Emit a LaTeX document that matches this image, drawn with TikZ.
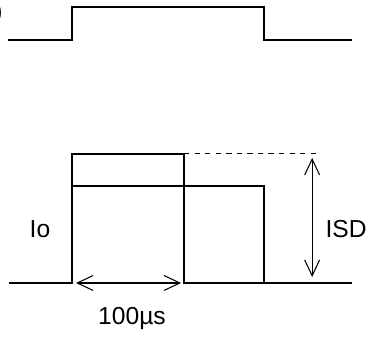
\documentclass[tikz,border=0pt]{standalone}
\usepackage{fontspec}
\setmainfont{Liberation Sans}
\usepackage{tkz-euclide}
\usetikzlibrary{arrows.meta}
\tikzset{
  wave/.style={line width=1.5pt, line join=miter},
  dim/.style={line width=0.6pt, {Straight Barb[length=9pt,width=8.5pt]}-{Straight Barb[length=9pt,width=8.5pt]}},
  lbl/.style={font=\fontsize{14}{16}\selectfont, inner sep=0pt}
}
\begin{document}
\begin{tikzpicture}[scale=0.02]
    \useasboundingbox (0,0) rectangle (372,340);
    % gate signal
    \tkzDefPoints{8/300/G0, 72/300/G1, 72/333/G2, 264/333/G3, 264/300/G4, 352/300/G5}
    \draw[wave] (G0) -- (G1) -- (G2) -- (G3) -- (G4) -- (G5);
    \node[lbl, anchor=east] (tag) at (3,327) {)};
    % current
    \tkzDefPoints{9/57/A, 72/57/B, 72/186/C, 184/186/D, 184/57/E, 352/57/F}
    \tkzDefPoints{72/154/H, 264/154/K, 264/57/L, 320/186/M}
    \draw[wave] (A) -- (B) -- (C) -- (D) -- (E) -- (F);
    \draw[wave] (H) -- (K) -- (L);
    \draw[line width=0.6pt, dashed] (D) -- (M);
    % dimensions
    \tkzDefPoints{312/182/P, 312/63/Q, 76/57/R, 181/57/S}
    \draw[dim] (P) -- (Q);
    \draw[dim] (R) -- (S);
    \node[lbl] (io) at (40,111) {Io};
    \node[lbl] (isd) at (346,111) {ISD};
    \node[lbl] (t) at (132,22) {100µs};
    \end{tikzpicture}
\end{document}
